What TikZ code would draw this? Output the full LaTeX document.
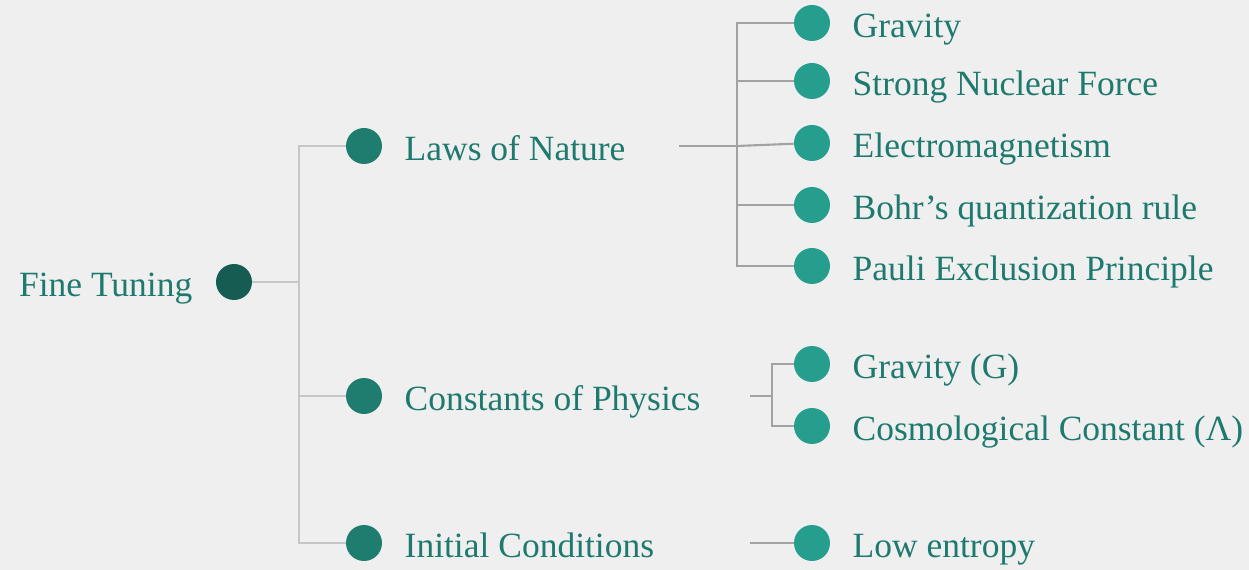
\documentclass[tikz,border=0pt]{standalone}
\usepackage{fontspec}
\setmainfont{Liberation Serif}
\usetikzlibrary{positioning}

\definecolor{bgcol}{HTML}{EFEFEF}
\definecolor{rootcol}{HTML}{165C52}
\definecolor{midcol}{HTML}{1F7D70}
\definecolor{leafcol}{HTML}{269E8E}
\definecolor{txtcol}{HTML}{1E7A6E}
\definecolor{trunkcol}{HTML}{C6C6C6}
\definecolor{branchcol}{HTML}{A2A2A2}

\begin{document}
\begin{tikzpicture}[x=0.02cm, y=-0.02cm, node distance=0.44cm]
    \tikzstyle{dot} = [circle, inner sep=0pt, minimum size=0.72cm]
    \tikzstyle{rootdot} = [dot, fill=rootcol]
    \tikzstyle{middot} = [dot, fill=midcol]
    \tikzstyle{leafdot} = [dot, fill=leafcol]
    \tikzstyle{txt} = [inner sep=0pt, text=txtcol, font=\fontsize{20.2}{24}\selectfont, text height=0.66cm, text depth=0.08cm]
    \tikzstyle{trunk} = [draw=trunkcol, line width=1.2pt]
    \tikzstyle{branch} = [draw=branchcol, line width=1.2pt]

    % Background
    \fill [bgcol] (0,0) rectangle (1249,570);
    \useasboundingbox (0,0) rectangle (1249,570);

    % Root
    \node [rootdot] (root) at (234,282) {};
    \node [txt, left=0.46cm of root] (roottxt) {Fine Tuning};

    % First level
    \node [middot] (laws) at (364,146) {};
    \node [txt, right=of laws] (lawstxt) {Laws of Nature};
    \node [middot] (consts) at (364,396) {};
    \node [txt, right=of consts] (conststxt) {Constants of Physics};
    \node [middot] (init) at (364,543) {};
    \node [txt, right=of init] (inittxt) {Initial Conditions};

    % Laws of Nature
    \node [leafdot] (gravity) at (812,23) {};
    \node [txt, right=of gravity] (gravitytxt) {Gravity};
    \node [leafdot] (strong) at (812,81) {};
    \node [txt, right=of strong] (strongtxt) {Strong Nuclear Force};
    \node [leafdot] (em) at (812,143) {};
    \node [txt, right=of em] (emtxt) {Electromagnetism};
    \node [leafdot] (bohr) at (812,205) {};
    \node [txt, right=of bohr] (bohrtxt) {Bohr’s quantization rule};
    \node [leafdot] (pauli) at (812,266) {};
    \node [txt, right=of pauli] (paulitxt) {Pauli Exclusion Principle};

    % Constants of Physics
    \node [leafdot] (gconst) at (812,364) {};
    \node [txt, right=of gconst] (gconsttxt) {Gravity (G)};
    \node [leafdot] (lambda) at (812,426) {};
    \node [txt, right=of lambda] (lambdatxt) {Cosmological Constant (Λ)};

    % Initial Conditions
    \node [leafdot] (entropy) at (812,543) {};
    \node [txt, right=of entropy] (entropytxt) {Low entropy};

    % Connections
    \coordinate (fork0) at (299,282);
    \draw [trunk] (root) -- (fork0) |- (laws);
    \draw [trunk] (fork0) |- (consts);
    \draw [trunk] (fork0) |- (init);

    \coordinate (lawsout) at (679,146);
    \coordinate (fork1) at (737,146);
    \draw [branch] (lawsout) -- (fork1) |- (gravity);
    \draw [branch] (fork1) |- (strong);
    \draw [branch] (fork1) -- (em);
    \draw [branch] (fork1) |- (bohr);
    \draw [branch] (fork1) |- (pauli);

    \coordinate (constsout) at (750,396);
    \coordinate (fork2) at (772,396);
    \draw [branch] (constsout) -- (fork2) |- (gconst);
    \draw [branch] (fork2) |- (lambda);

    \coordinate (initout) at (750,543);
    \draw [branch] (initout) -- (entropy);
\end{tikzpicture}
\end{document}
